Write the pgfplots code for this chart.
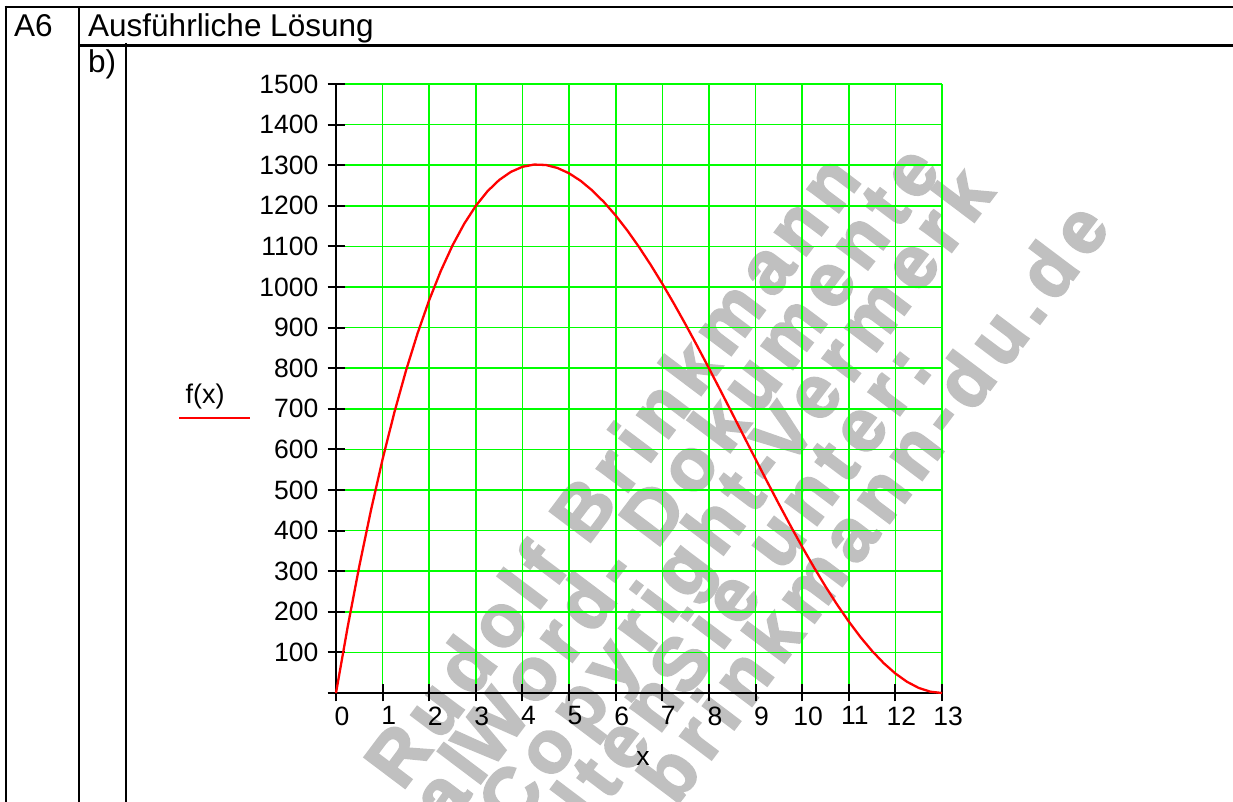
\documentclass[border=0pt]{standalone}
\usepackage{fontspec}
\setmainfont{Liberation Sans}
\newfontfamily\wmfont{Liberation Sans Bold}[LetterSpace=12, FakeBold=3]
\usepackage{pgfplots}
\pgfplotsset{compat=1.18}
\definecolor{wmgray}{RGB}{192,192,192}
\definecolor{gridgreen}{RGB}{0,255,0}
\definecolor{curvered}{RGB}{255,0,0}
\begin{document}
\begin{tikzpicture}
\useasboundingbox (0,0) rectangle (1233pt,802pt);
% watermark
\begin{scope}[x=1pt,y=-1pt,yshift=802pt]
\clip (0,0) rectangle (1233,802);
\tikzset{wm/.style={inner sep=0pt, rotate=53, text=wmgray, font=\wmfont\fontsize{74}{76}\selectfont}}
\node[wm, anchor=base west] at (402,792) {Rudolf Brinkmann};
\node[wm, anchor=base east] at (490,771) {Original};
\node[wm, anchor=base west] at (490,771) {Word- Dokumente};
\node[wm, anchor=base east] at (788,469) {ohne Copyright-};
\node[wm, anchor=base west] at (788,469) {Vermerk};
\node[wm, anchor=base east] at (686,699) {erhalten};
\node[wm, anchor=base west] at (686,699) {Sie unter:};
\node[wm, anchor=base east] at (1112,228) {www.brinkmann-du.de};
\end{scope}
% axis
\begin{axis}[
  at={(336pt,109pt)}, anchor=south west,
  scale only axis, width=606pt, height=609pt,
  xmin=0, xmax=13, ymin=0, ymax=1500,
  axis lines=left,
  axis line style={-, black, line width=2.2pt},
  tick align=center,
  major tick length=17pt,
  every tick/.style={black, line width=2pt},
  xmajorgrids, ymajorgrids,
  grid style={draw=gridgreen, line width=1.6pt},
  major grid style={draw=gridgreen, line width=1.6pt},
  xtick={0,1,2,3,4,5,6,7,8,9,10,11,12,13},
  xticklabels={0,1,2,3,4,5,6,7,8,9,10,11,12,13},
  ytick={0,100,200,300,400,500,600,700,800,900,1000,1100,1200,1300,1400,1500},
  yticklabels={,100,200,300,400,500,600,700,800,900,1000,1100,1200,1300,1400,1500},
  /pgf/number format/assume math mode=true,
  ticklabel style={font=\fontsize{26.5}{28}\selectfont},
  xticklabel style={anchor=north, inner sep=0pt, xshift=6pt, yshift=-5pt},
  yticklabel style={anchor=east, inner sep=0pt, xshift=-9pt},
  xlabel={x},
  xlabel style={at={(axis description cs:0.5066,-0.107)}, anchor=center, inner sep=0pt, font=\fontsize{26.5}{28}\selectfont},
  clip=false,
]
\addplot[curvered, line width=2.3pt] coordinates {
(0,0) (0.25,162.56) (0.5,312.5) (0.75,450.19) (1,576) (1.25,690.31) (1.5,793.5) (1.75,885.94)
(2,968) (2.25,1040.06) (2.5,1102.5) (2.75,1155.69) (3,1200) (3.25,1235.81) (3.5,1263.5) (3.75,1283.44)
(4,1296) (4.25,1301.56) (4.5,1300.5) (4.75,1293.19) (5,1280) (5.25,1261.31) (5.5,1237.5) (5.75,1208.94)
(6,1176) (6.25,1139.06) (6.5,1098.5) (6.75,1054.69) (7,1008) (7.25,958.81) (7.5,907.5) (7.75,854.44)
(8,800) (8.25,744.56) (8.5,688.5) (8.75,632.19) (9,576) (9.25,520.31) (9.5,465.5) (9.75,411.94)
(10,360) (10.25,310.06) (10.5,262.5) (10.75,217.69) (11,176) (11.25,137.81) (11.5,103.5) (11.75,73.44)
(12,48) (12.25,27.56) (12.5,12.5) (12.75,3.19) (13,0)
};
\end{axis}
% table frame and texts
\begin{scope}[x=1pt,y=-1pt,yshift=802pt]
\draw[black, line width=2.6pt] (4.7,7) -- (1233,7);
\draw[black, line width=2.6pt] (6,5.7) -- (6,802);
\draw[black, line width=2.6pt] (79,7) -- (79,802);
\draw[black, line width=2.6pt] (79,45.5) -- (1233,45.5);
\draw[black, line width=2.6pt] (126,43) -- (126,802);
\node[anchor=base west, inner sep=0pt, font=\fontsize{31.5}{33}\selectfont] at (14,36.5) {A6};
\node[anchor=base west, inner sep=0pt, font=\fontsize{31.5}{33}\selectfont] at (88,36.5) {Ausführliche Lösung};
\node[anchor=base west, inner sep=0pt, font=\fontsize{31.5}{33}\selectfont] at (88,73) {b)};
\node[anchor=base, inner sep=0pt, font=\fontsize{27}{28}\selectfont] at (205,404) {f(x)};
\draw[curvered, line width=1.4pt] (179,418) -- (250,418);
\end{scope}
\end{tikzpicture}
\end{document}
